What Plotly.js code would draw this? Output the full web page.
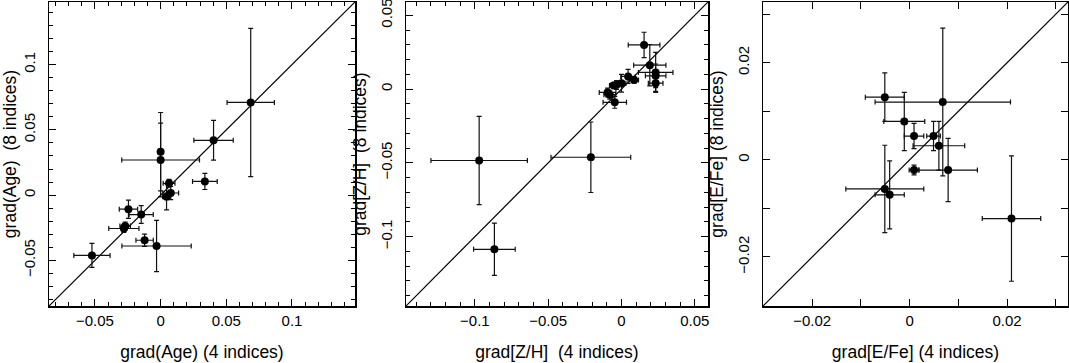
<!DOCTYPE html>
<html>
<head>
<meta charset="utf-8">
<script src="https://cdn.plot.ly/plotly-3.0.1.min.js"></script>
<style>
  html, body { margin: 0; padding: 0; background: #fff; }
  #plotDiv { width: 1069px; height: 363px; }
</style>
</head>
<body>
<div id="plotDiv"></div>
<script>
// grad(Age): 4 indices vs 8 indices
let ageX    = [0.0686, 0.0403, 0.0, 0.0, 0.0064, 0.0077, 0.0045, 0.0337, -0.0245, -0.0148, -0.027, -0.028, -0.0122, -0.0031, -0.0523];
let ageY    = [0.071, 0.042, 0.0333, 0.0269, 0.009, 0.0016, -0.0013, 0.0105, -0.0108, -0.0149, -0.0236, -0.0256, -0.0346, -0.039, -0.0462];
let ageXerr = [0.018, 0.015, 0.0, 0.0296, 0.0045, 0.006, 0.003, 0.0094, 0.007, 0.0092, 0.004, 0.0115, 0.0066, 0.0264, 0.0138];
let ageYerr = [0.0568, 0.0152, 0.030, 0.0282, 0.003, 0.005, 0.010, 0.0062, 0.007, 0.0068, 0.003, 0.003, 0.0047, 0.0196, 0.0092];

// grad[Z/H]
let zhX    = [-0.0971, -0.0867, -0.0209, 0.0154, 0.0193, 0.0233, 0.0233, 0.0233, 0.0086, 0.0045, 0.0, -0.0034, -0.0052, -0.0095, -0.008, -0.0046];
let zhY    = [-0.0484, -0.1086, -0.0462, 0.0299, 0.0162, 0.0113, 0.009, 0.004, 0.0061, 0.0086, 0.0039, 0.0027, 0.0025, -0.0023, -0.0038, -0.009];
let zhXerr = [0.0329, 0.0142, 0.0272, 0.0108, 0.011, 0.0118, 0.007, 0.005, 0.003, 0.005, 0.003, 0.004, 0.003, 0.0057, 0.004, 0.008];
let zhYerr = [0.0299, 0.0177, 0.0239, 0.0086, 0.014, 0.0135, 0.008, 0.0056, 0.002, 0.0047, 0.006, 0.003, 0.002, 0.003, 0.003, 0.004];

// grad[E/Fe]
let efX    = [-0.0051, 0.0068, -0.0011, 0.0009, 0.0049, 0.006, 0.0009, 0.0079, -0.0051, -0.0041, 0.0209];
let efY    = [0.0129, 0.0119, 0.0079, 0.0049, 0.0049, 0.0029, -0.0021, -0.0021, -0.006, -0.0072, -0.0121];
let efXerr = [0.004, 0.0139, 0.0042, 0.002, 0.0014, 0.0053, 0.001, 0.006, 0.008, 0.003, 0.006];
let efYerr = [0.005, 0.0152, 0.006, 0.0026, 0.003, 0.005, 0.001, 0.0065, 0.009, 0.007, 0.0129];

// axis ranges (same on x and y, one-to-one line runs corner to corner)
let ageRange = [-0.085, 0.148];
let zhRange  = [-0.147, 0.059];
let efRange  = [-0.0301, 0.0325];

// tick labels
let ageTicks = [-0.05, 0, 0.05, 0.1];
let ageLabels = ["\u22120.05", "0", "0.05", "0.1"];
let zhTicks = [-0.1, -0.05, 0, 0.05];
let zhLabels = ["\u22120.1", "\u22120.05", "0", "0.05"];
let efTicks = [-0.02, 0, 0.02];
let efLabels = ["\u22120.02", "0", "0.02"];

function pointsTrace(x, y, ex, ey, n) {
    return {
        x: x, y: y,
        xaxis: "x" + n, yaxis: "y" + n,
        mode: "markers", type: "scatter",
        marker: {color: "#000", size: 8},
        error_x: {type: "data", array: ex, visible: true, color: "#111", thickness: 1.2, width: 2.5},
        error_y: {type: "data", array: ey, visible: true, color: "#111", thickness: 1.2, width: 2.5},
        hoverinfo: "skip"
    };
}
function diagTrace(r, n) {
    return {
        x: r, y: r,
        xaxis: "x" + n, yaxis: "y" + n,
        mode: "lines", type: "scatter",
        line: {color: "#000", width: 1.2},
        hoverinfo: "skip"
    };
}

var data = [
    diagTrace(ageRange, ""), pointsTrace(ageX, ageY, ageXerr, ageYerr, ""),
    diagTrace(zhRange, "2"), pointsTrace(zhX, zhY, zhXerr, zhYerr, "2"),
    diagTrace(efRange, "3"), pointsTrace(efX, efY, efXerr, efYerr, "3")
];

var W = 1069, H = 363;
var font = {family: "Liberation Sans, Arial, sans-serif", size: 15, color: "#000"};
var titleFont = {family: "Liberation Sans, Arial, sans-serif", size: 17.5, color: "#000"};

function xAx(dom, r, tv, tt, title, minorStep, anchor) {
    return {
        domain: [dom[0] / W, dom[1] / W], range: r, anchor: anchor,
        showgrid: false, zeroline: false,
        showline: true, linecolor: "#000", linewidth: 1.5, mirror: "allticks",
        ticks: "inside", ticklen: 7, tickcolor: "#000", tickwidth: 1,
        tickmode: "array", tickvals: tv, ticktext: tt,
        tickfont: font, ticklabeloverflow: "allow",
        minor: {dtick: minorStep, ticks: "inside", ticklen: 4, tickcolor: "#000", tickwidth: 1, showgrid: false},
        title: {text: title, font: titleFont, standoff: 18}
    };
}
function yAx(r, tv, tt, title, minorStep, anchor) {
    return {
        domain: [57 / H, 361 / H], range: r, anchor: anchor,
        showgrid: false, zeroline: false,
        showline: true, linecolor: "#000", linewidth: 1.5, mirror: "allticks",
        ticks: "inside", ticklen: 7, tickcolor: "#000", tickwidth: 1,
        tickmode: "array", tickvals: tv, ticktext: tt,
        tickangle: -90, tickfont: font, ticklabeloverflow: "allow", ticklabelstandoff: 7,
        minor: {dtick: minorStep, ticks: "inside", ticklen: 4, tickcolor: "#000", tickwidth: 1, showgrid: false},
        title: {text: title, font: titleFont, standoff: 6}
    };
}

var layout = {
    width: W, height: H,
    margin: {l: 0, r: 0, t: 0, b: 0},
    showlegend: false,
    paper_bgcolor: "#fff", plot_bgcolor: "#fff",
    font: font,
    xaxis:  xAx([49, 355], ageRange, ageTicks, ageLabels, "grad(Age) (4 indices)", 0.01, "y"),
    yaxis:  yAx(ageRange, ageTicks, ageLabels, "grad(Age)  (8 indices)", 0.01, "x"),
    xaxis2: xAx([406, 708], zhRange, zhTicks, zhLabels, "grad[Z/H]  (4 indices)", 0.01, "y2"),
    yaxis2: yAx(zhRange, zhTicks, zhLabels, "grad[Z/H]  (8 indices)", 0.01, "x2"),
    xaxis3: xAx([763, 1068], efRange, efTicks, efLabels, "grad[E/Fe] (4 indices)", 0.01, "y3"),
    yaxis3: yAx(efRange, efTicks, efLabels, "grad[E/Fe] (8 indices)", 0.01, "x3")
};
layout.xaxis3.minor.ticklen = 7;
layout.yaxis3.minor.ticklen = 7;

Plotly.newPlot("plotDiv", data, layout, {staticPlot: true});
</script>
</body>
</html>
